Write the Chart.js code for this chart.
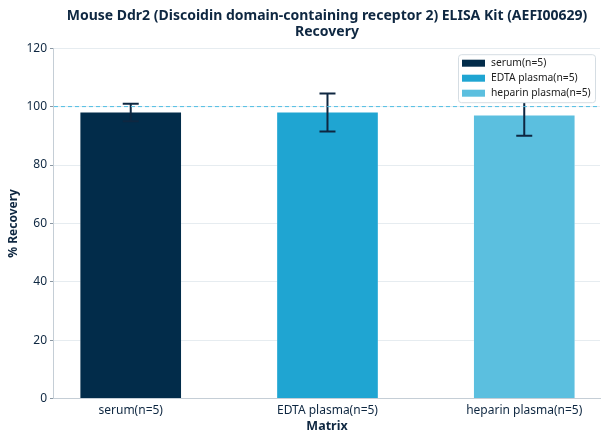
<!DOCTYPE html>
<html>
<head>
<meta charset="utf-8">
<script src="https://cdn.jsdelivr.net/npm/chart.js@4/dist/chart.umd.min.js"></script>
<style>
  html, body { margin: 0; padding: 0; background: #fff; }
  #wrap { width: 608px; height: 444px; }
</style>
</head>
<body>
<div id="wrap"><canvas id="recoveryChart"></canvas></div>
<script>
// data
const categories = ["serum(n=5)", "EDTA plasma(n=5)", "heparin plasma(n=5)"];
const recovery = [98, 98, 97];
const errors = [3, 6.5, 7];
const yTicks = [0, 20, 40, 60, 80, 100, 120];
const barColors = ["#022c4a", "#1fa5d2", "#5bbfdf"];

const navy = "#0e2741";
const fontFam = "'Noto Sans', 'DejaVu Sans', sans-serif";

// error bars drawn through the chart scales
const errorBars = {
    id: "errorBars",
    afterDatasetsDraw(chart) {
        const ctx = chart.ctx;
        const x = chart.scales.x, y = chart.scales.y;
        ctx.save();
        ctx.strokeStyle = navy;
        ctx.lineWidth = 2;
        recovery.forEach(function (v, i) {
            const px = x.getPixelForValue(i);
            const top = y.getPixelForValue(v + errors[i]);
            const bot = y.getPixelForValue(v - errors[i]);
            ctx.beginPath();
            ctx.moveTo(px, top); ctx.lineTo(px, bot);
            ctx.moveTo(px - 8, top); ctx.lineTo(px + 8, top);
            ctx.moveTo(px - 8, bot); ctx.lineTo(px + 8, bot);
            ctx.stroke();
        });
        // dashed reference line at 100
        const py = y.getPixelForValue(100);
        ctx.strokeStyle = "#4fbde3";
        ctx.lineWidth = 1;
        ctx.setLineDash([4, 3]);
        ctx.beginPath();
        ctx.moveTo(chart.chartArea.left, py);
        ctx.lineTo(chart.chartArea.right, py);
        ctx.stroke();
        ctx.restore();
    }
};

// legend box inside the plot, upper right, drawn over the marks
const legendBox = {
    id: "legendBox",
    afterDraw(chart) {
        const ctx = chart.ctx;
        const area = chart.chartArea;
        const w = 137, h = 48;
        const left = area.right - w - 5, top = area.top + 6;
        ctx.save();
        ctx.fillStyle = "#ffffff";
        ctx.strokeStyle = "#d5dde3";
        ctx.lineWidth = 1;
        ctx.beginPath();
        ctx.roundRect(left + 0.5, top + 0.5, w, h, 3);
        ctx.fill();
        ctx.stroke();
        ctx.font = "10.3px " + fontFam;
        ctx.textBaseline = "middle";
        chart.data.datasets.forEach(function (ds, i) {
            const cy = top + 9 + i * 15;
            ctx.fillStyle = ds.backgroundColor;
            ctx.fillRect(left + 4, cy - 3.5, 23, 7);
            ctx.fillStyle = "#222";
            ctx.fillText(ds.label, left + 33, cy);
        });
        ctx.restore();
    }
};

new Chart(document.getElementById("recoveryChart"), {
    type: "bar",
    data: {
        datasets: categories.map(function (c, i) {
            return {
                label: c,
                data: [{ x: i, y: recovery[i] }],
                backgroundColor: barColors[i],
                borderColor: "rgba(255,255,255,0.5)",
                borderWidth: 0.5,
                barThickness: 101,
                grouped: false
            };
        })
    },
    options: {
        responsive: true,
        maintainAspectRatio: false,
        animation: false,
        layout: { padding: { top: 0, right: 8, left: 2, bottom: 10 } },
        scales: {
            x: {
                type: "linear",
                offset: false,
                bounds: "data",
                min: -0.39,
                max: 2.385,
                afterBuildTicks: function (axis) {
                    axis.ticks = categories.map(function (c, i) { return { value: i }; });
                },
                ticks: {
                    color: navy,
                    font: { family: fontFam, size: 12 },
                    padding: 1,
                    autoSkip: false,
                    maxRotation: 0,
                    callback: function (v) { return categories[v]; }
                },
                grid: { display: false, drawTicks: true, tickLength: 4, tickColor: "#8a97a3" },
                border: { color: "#c5ced6", width: 1 },
                title: {
                    display: true, text: "Matrix", color: navy,
                    font: { family: fontFam, size: 12.5, weight: "bold" }, padding: { top: 0, bottom: 0 }
                }
            },
            y: {
                min: 0,
                max: 120,
                afterBuildTicks: function (axis) {
                    axis.ticks = yTicks.map(function (v) { return { value: v }; });
                },
                ticks: {
                    color: navy,
                    font: { family: fontFam, size: 12 },
                    padding: 3
                },
                grid: { color: "#e6ecf0", tickLength: 4, tickColor: "#8a97a3" },
                border: { color: "#c5ced6", width: 1 },
                title: {
                    display: true, text: "% Recovery", color: navy,
                    font: { family: fontFam, size: 12, weight: "bold" }, padding: { top: 4, bottom: 3 }
                }
            }
        },
        plugins: {
            legend: { display: false },
            tooltip: { enabled: false },
            title: {
                display: true,
                fullSize: false,
                text: ["Mouse Ddr2 (Discoidin domain-containing receptor 2) ELISA Kit (AEFI00629)", "Recovery"],
                color: navy,
                font: { family: fontFam, size: 14, weight: "bold", lineHeight: 1.15 },
                padding: { top: 8, bottom: 8 }
            }
        }
    },
    plugins: [errorBars, legendBox]
});
</script>
</body>
</html>
